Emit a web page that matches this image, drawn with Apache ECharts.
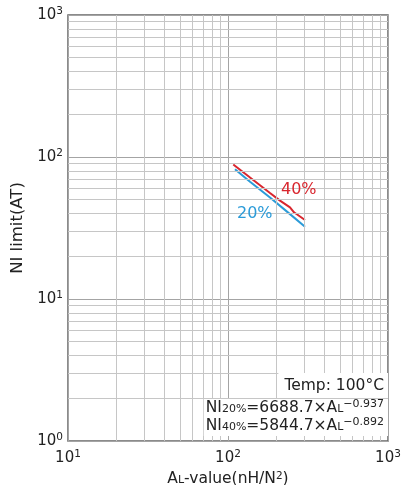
<!DOCTYPE html>
<html>
<head>
<meta charset="utf-8">
<script src="https://cdn.jsdelivr.net/npm/echarts@6/dist/echarts.min.js"></script>
<style>
html,body{margin:0;padding:0;background:#fff;}
#chart{width:401px;height:485px;}
</style>
</head>
<body>
<div id="chart"></div>
<script>
// ---- data ----
const series40 = [[107.9,88.5],[118.9,81.3],[137.3,71.7],[158.5,63.3],[183,55.8],[211.3,49.3],[244,44.2],[258.5,40.8],[302.8,36]];
const series20 = [[110.6,82],[137.3,67],[183,51.8],[244,39.6],[302.8,32.3]];
const xMinorTicks = [20,30,40,50,60,70,80,90,200,300,400,500,600,700,800,900];
const yMinorTicks = [2,3,4,5,6,7,8,9,20,30,40,50,60,70,80,90,200,300,400,500,600,700,800,900];
const seriesNames = ['40%','20%'];
const tempText = 'Temp: 100°C';
const formula20 = ['NI','20%','=6688.7×A','L','−0.937'];
const formula40 = ['NI','40%','=5844.7×A','L','−0.892'];

const FONT = '"DejaVu Sans", "Liberation Sans", Arial, sans-serif';
const RED = '#d9262e';
const BLUE = '#2b9bd8';
const TXT = '#222';

function powLabel(v){
  const e = Math.round(Math.log10(v));
  return '{b|10}{s|' + e + '}';
}
const powRich = {
  b:{fontSize:15,color:TXT,fontFamily:FONT,lineHeight:18},
  s:{fontSize:10.5,color:TXT,fontFamily:FONT,lineHeight:11,verticalAlign:'top'}
};
function formulaLine(f){
  return '{n|'+f[0]+'}{m|'+f[1]+'}{n|'+f[2]+'}{m|'+f[3]+'}{p|'+f[4]+'}';
}
const formulaRich = {
  n:{fontSize:15.5,color:TXT,fontFamily:FONT,lineHeight:18},
  m:{fontSize:11,color:TXT,fontFamily:FONT,lineHeight:12,verticalAlign:'bottom',padding:[0,0,2,0]},
  p:{fontSize:11,color:TXT,fontFamily:FONT,lineHeight:11,verticalAlign:'top'}
};

const chart = echarts.init(document.getElementById('chart'));
chart.setOption({
  animation:false,
  backgroundColor:'#fff',
  grid:{left:68,top:15,right:13,bottom:44,containLabel:false,outerBoundsMode:'none',
        show:true,borderColor:'#666',borderWidth:1.5,backgroundColor:'transparent'},
  xAxis:{
    type:'log',logBase:10,min:10,max:1000,
    axisLine:{show:false},axisTick:{show:false},
    splitLine:{show:true,lineStyle:{color:'#a4a4a4',width:1}},
    axisLabel:{formatter:powLabel,rich:powRich,margin:8,color:TXT},
    name:'{n|A}{m|L}{n|-value(nH/N}{p|2}{n|)}',
    nameLocation:'middle',nameGap:28,
    nameTextStyle:{rich:{
      n:{fontSize:15.5,color:TXT,fontFamily:FONT,lineHeight:18},
      m:{fontSize:11,color:TXT,fontFamily:FONT,lineHeight:12,verticalAlign:'bottom',padding:[0,0,3,0]},
      p:{fontSize:10.5,color:TXT,fontFamily:FONT,lineHeight:10,verticalAlign:'top'}
    }}
  },
  yAxis:{
    type:'log',logBase:10,min:1,max:1000,
    axisLine:{show:false},axisTick:{show:false},
    splitLine:{show:true,lineStyle:{color:'#a4a4a4',width:1}},
    axisLabel:{formatter:powLabel,rich:powRich,margin:5,color:TXT},
    name:'NI limit(AT)',nameLocation:'middle',nameGap:42,
    nameTextStyle:{fontSize:16.5,color:TXT,fontFamily:FONT}
  },
  title:[
    {text:tempText,right:13,top:373,backgroundColor:'#fff',padding:[4,4,3,6],
     textStyle:{fontSize:15.5,fontWeight:'normal',color:TXT,fontFamily:FONT,lineHeight:18}},
    {text:formulaLine(formula20)+'\n'+formulaLine(formula40),right:13,top:399,backgroundColor:'#fff',padding:[0,4,1,2],
     textStyle:{rich:formulaRich,fontWeight:'normal'}}
  ],
  graphic:[
    {type:'text',left:281,top:182,z:10,style:{text:seriesNames[0],fill:RED,font:'16px '+FONT}},
    {type:'text',left:237,top:206,z:10,style:{text:seriesNames[1],fill:BLUE,font:'16px '+FONT}}
  ],
  series:[
    {type:'line',name:'grid',data:[],silent:true,z:1,
     markLine:{silent:true,symbol:['none','none'],label:{show:false},emphasis:{disabled:true},
       lineStyle:{color:'#c6c6c6',width:1,type:'solid'},
       data:xMinorTicks.map(v=>({xAxis:v})).concat(yMinorTicks.map(v=>({yAxis:v})))}},
    {type:'line',name:seriesNames[0],data:series40,showSymbol:false,symbol:'none',z:4,
     lineStyle:{color:RED,width:2},itemStyle:{color:RED}},
    {type:'line',name:seriesNames[1],data:series20,showSymbol:false,symbol:'none',z:3,
     lineStyle:{color:BLUE,width:2},itemStyle:{color:BLUE}}
  ]
});
</script>
</body>
</html>
